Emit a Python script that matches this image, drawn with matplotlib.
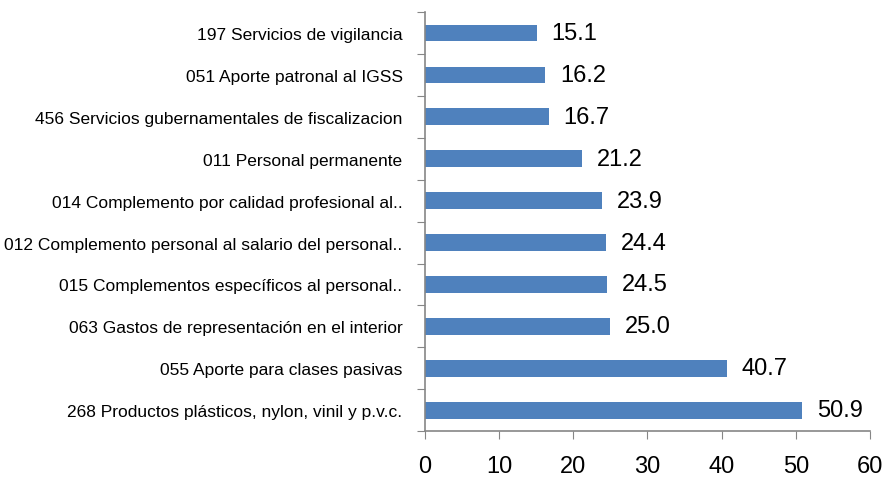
import matplotlib
matplotlib.use("Agg")
import matplotlib.pyplot as plt
from matplotlib import font_manager

categories = [
    "268 Productos plásticos, nylon, vinil y p.v.c.",
    "055 Aporte para clases pasivas",
    "063 Gastos de representación en el interior",
    "015 Complementos específicos al personal..",
    "012 Complemento personal al salario del personal..",
    "014 Complemento por calidad profesional al..",
    "011 Personal permanente",
    "456 Servicios gubernamentales de fiscalizacion",
    "051 Aporte patronal al IGSS",
    "197 Servicios de vigilancia",
]
values = [50.9, 40.7, 25.0, 24.5, 24.4, 23.9, 21.2, 16.7, 16.2, 15.1]
xticks = [0, 10, 20, 30, 40, 50, 60]

names = {f.name for f in font_manager.fontManager.ttflist}
fam = "Liberation Sans Narrow" if "Liberation Sans Narrow" in names else "Liberation Sans"
plt.rcParams["font.family"] = [fam, "DejaVu Sans"]

fig = plt.figure(figsize=(8.85, 4.85), dpi=100)
ax = fig.add_axes([0.480, 0.109, 0.503, 0.864])

bar_color = "#4F81BD"
y = range(len(values))
ax.barh(y, values, height=0.4, color=bar_color)
for i, v in enumerate(values):
    ax.text(v + 2.0, i, f"{v:.1f}", va="center", ha="left", fontsize=17)

ax.set_xlim(0, 60)
ax.set_ylim(-0.5, len(values) - 0.5)
ax.set_xticks(xticks)
ax.set_xticklabels([str(t) for t in xticks], fontsize=17)
ax.set_yticks([i - 0.5 for i in range(len(values) + 1)], minor=False)
ax.set_yticklabels([])
ax.set_yticks(list(y), minor=True)
ax.set_yticklabels(categories, minor=True, fontsize=12.5)
ax.tick_params(axis="y", which="minor", length=0, pad=16)
ax.tick_params(axis="y", which="major", length=6, color="#868686", direction="out")
ax.tick_params(axis="x", length=6, color="#868686", direction="out", pad=11)

for s in ["top", "right"]:
    ax.spines[s].set_visible(False)
for s in ["left", "bottom"]:
    ax.spines[s].set_color("#868686")
    ax.spines[s].set_linewidth(1.2)

fig.savefig("out.png", dpi=100)
